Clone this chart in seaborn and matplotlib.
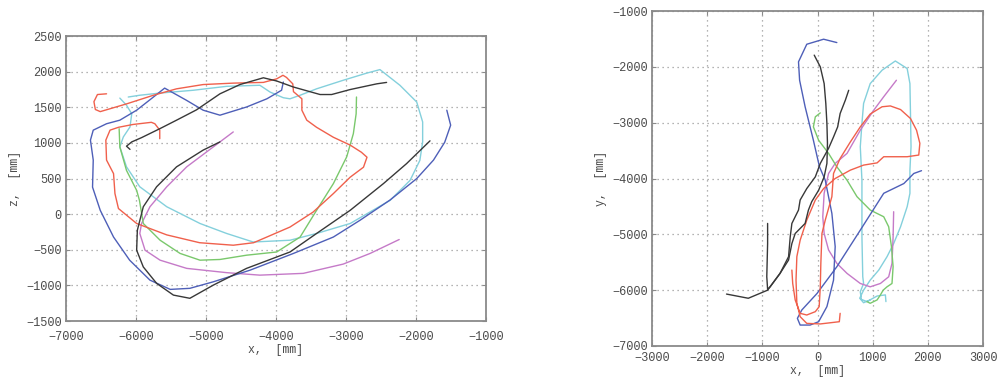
import matplotlib
matplotlib.use("Agg")
import matplotlib.pyplot as plt
import numpy as np
import pandas as pd
import seaborn as sns

# ---- side view (x, z) trajectories, mm ----
xz_red_x = [-5660, -5660, -5730, -5780, -6040, -6250, -6370, -6430, -6420, -6320, -6300, -6250,
            -5990, -5560, -5090, -4610, -4320, -4130, -3800, -3470, -3180, -2940, -2750, -2700,
            -2780, -2940, -3180, -3420, -3560, -3630, -3630, -3750, -3760, -3850, -3900, -3990,
            -4180, -4610, -5040, -5420, -5750, -6130, -6510, -6580, -6600, -6550, -6420]
xz_red_z = [1060, 1180, 1270, 1290, 1260, 1220, 1180, 1040, 760, 570, 290, 80,
            -130, -290, -400, -435, -400, -320, -180, 30, 290, 520, 660, 800,
            870, 970, 1080, 1220, 1320, 1460, 1620, 1720, 1830, 1920, 1950, 1900,
            1850, 1840, 1820, 1760, 1670, 1550, 1440, 1470, 1580, 1680, 1690]

xz_blue_x = [-1560, -1505, -1590, -1750, -1990, -2370, -2800, -3180, -3750, -4370, -4900, -5230,
             -5510, -5800, -6090, -6320, -6510, -6620, -6610, -6650, -6610, -6420, -6230, -5990,
             -5750, -5590, -5280, -5040, -4800, -4420, -4130, -3920, -3895]
xz_blue_z = [1460, 1250, 1010, 760, 500, 200, -85, -320, -550, -785, -950, -1040,
             -1055, -925, -645, -320, 55, 380, 760, 1040, 1180, 1270, 1320, 1460,
             1645, 1770, 1600, 1460, 1390, 1505, 1620, 1740, 1855]

xz_black1_x = [-6085, -6135, -6060, -5920, -5660, -5420, -5135, -4800, -4515, -4180, -3990, -3750,
               -3370, -3205, -2940, -2560, -2420]
xz_black1_z = [910, 955, 1015, 1075, 1200, 1320, 1465, 1690, 1820, 1915, 1870, 1785,
               1680, 1680, 1750, 1830, 1850]

xz_black2_x = [-4800, -5040, -5420, -5705, -5895, -5980, -5990, -5895, -5705, -5465, -5230, -4895,
               -4420, -3800, -3420, -2940, -2465, -2135, -1800]
xz_black2_z = [1015, 900, 665, 385, 105, -225, -505, -740, -970, -1135, -1180, -995,
               -760, -530, -270, 55, 430, 710, 1030]

xz_cyan_x = [-6230, -6135, -6060, -6085, -6180, -6230, -6135, -5945, -5560, -5085, -4705, -4325,
             -3800, -3420, -2940, -2370, -2085, -1945, -1905, -1905, -1990, -2230, -2515, -2705,
             -3040, -3420, -3655, -3800, -3895, -4085, -4230, -4705, -5180, -5660, -5945, -6110]
xz_cyan_z = [1630, 1530, 1410, 1225, 1085, 945, 665, 385, 105, -130, -270, -390,
             -365, -270, -130, 195, 475, 755, 1015, 1295, 1575, 1810, 2030, 1980,
             1880, 1760, 1670, 1620, 1635, 1715, 1810, 1795, 1740, 1700, 1670, 1645]

xz_green_x = [-6240, -6230, -6135, -5990, -5950, -5895, -5655, -5370, -5085, -4800, -4420, -3990,
              -3655, -3420, -3180, -2990, -2895, -2855, -2850]
xz_green_z = [1200, 945, 615, 335, 195, -130, -365, -550, -645, -635, -575, -530,
              -320, 55, 430, 805, 1130, 1410, 1645]

xz_magenta_x = [-4610, -4895, -5275, -5560, -5800, -5920, -5945, -5870, -5655, -5275, -4705, -4230,
                -3610, -3040, -2655, -2240]
xz_magenta_z = [1155, 945, 665, 385, 105, -130, -270, -505, -645, -760, -820, -855,
                -830, -700, -550, -355]

# ---- top view (x, y) trajectories, mm ----
xy_red_x = [410, 395, 50, -195, -315, -375, -390, -375, -315, -195, -40, 110,
            320, 595, 835, 1080, 1200, 1625, 1835, 1855, 1795, 1685, 1505, 1320,
            1170, 955, 775, 595, 410, 290, 260, 140, 80, 60, 50, 30, -40, -195,
            -315, -405, -450, -465]
xy_red_y = [-6415, -6565, -6605, -6595, -6475, -6235, -5820, -5400, -5105, -4745, -4385, -4180,
            -4000, -3850, -3760, -3720, -3610, -3610, -3580, -3370, -3135, -2925, -2765, -2700,
            -2715, -2845, -3075, -3345, -3640, -3910, -4325, -4745, -4985, -5520, -5940, -6295,
            -6385, -6445, -6415, -6175, -5880, -5640]

xy_blue_x = [350, 110, -195, -345, -325, -225, -75, 35, 140, 260, 320, 290,
             170, 20, -135, -315, -365, -285, -10, 350, 775, 1200, 1565, 1745, 1885]
xy_blue_y = [-1565, -1505, -1595, -1910, -2240, -2715, -3315, -3790, -4030, -4625, -5220, -5820,
             -6295, -6565, -6625, -6625, -6505, -6355, -6060, -5580, -4925, -4265, -4090, -3910, -3860]

xy_black1_x = [-60, 50, 120, 150, 170, 180, 170, 120, 20, -105, -165, -225,
               -405, -465, -525, -680, -860, -905, -1255, -1650]
xy_black1_y = [-1790, -2000, -2300, -2655, -3015, -3370, -3730, -3970, -4210, -4415, -4565, -4805,
               -4985, -5165, -5460, -5700, -5940, -6000, -6145, -6070]

xy_black2_x = [565, 505, 410, 365, 290, 200, 50, -40, -195, -315, -345, -465,
               -495, -525, -680, -860, -905, -920, -905, -905]
xy_black2_y = [-2420, -2595, -2835, -3075, -3255, -3460, -3730, -3970, -4180, -4385, -4565, -4805,
               -5045, -5400, -5700, -5940, -5985, -5760, -5165, -4805]

xy_cyan_x = [955, 835, 765, 835, 955, 1110, 1260, 1380, 1505, 1625, 1675, 1675,
             1695, 1685, 1675, 1625, 1410, 1170, 955, 835, 805, 775, 805, 805,
             820, 835, 775, 795, 895, 1080, 1230, 1240]
xy_cyan_y = [-6175, -6225, -6145, -6000, -5820, -5640, -5400, -5165, -4865, -4505, -4265, -3850,
             -3430, -2835, -2300, -2030, -1895, -2060, -2300, -2655, -3015, -3430, -4030, -5045,
             -5760, -5880, -6030, -6165, -6205, -6105, -6085, -6205]

xy_green_x = [50, -40, -75, 20, 200, 350, 535, 715, 955, 1200, 1290, 1340,
              1370, 1350, 1260, 1190, 1140, 1080, 955, 895]
xy_green_y = [-2825, -2895, -3075, -3315, -3550, -3790, -4030, -4325, -4565, -4685, -4865, -5220,
              -5580, -5880, -5940, -6000, -6085, -6175, -6235, -6205]

xy_magenta_x = [1430, 1200, 1020, 775, 535, 320, 200, 120, 95, 120, 200, 350,
                535, 775, 955, 1140, 1290, 1350, 1370, 1380]
xy_magenta_y = [-2240, -2535, -2775, -3135, -3550, -3730, -3910, -4265, -4685, -4985, -5280, -5520,
                -5700, -5880, -5940, -5880, -5760, -5520, -5045, -4595]

line_colors = {
    "red": "#f0604c",
    "blue": "#4e5fb8",
    "black": "#383838",
    "cyan": "#84d0dc",
    "green": "#7ac86c",
    "magenta": "#c57ac8",
}


def build_frame(tracks, ycol):
    frames = []
    for seg, (color, xs, ys) in enumerate(tracks):
        frames.append(pd.DataFrame({"x": xs, ycol: ys, "color": color, "seg": seg}))
    return pd.concat(frames, ignore_index=True)


side = build_frame([
    ("cyan", xz_cyan_x, xz_cyan_z),
    ("magenta", xz_magenta_x, xz_magenta_z),
    ("green", xz_green_x, xz_green_z),
    ("blue", xz_blue_x, xz_blue_z),
    ("red", xz_red_x, xz_red_z),
    ("black", xz_black1_x, xz_black1_z),
    ("black", xz_black2_x, xz_black2_z),
], "z")

top = build_frame([
    ("cyan", xy_cyan_x, xy_cyan_y),
    ("magenta", xy_magenta_x, xy_magenta_y),
    ("green", xy_green_x, xy_green_y),
    ("blue", xy_blue_x, xy_blue_y),
    ("red", xy_red_x, xy_red_y),
    ("black", xy_black1_x, xy_black1_y),
    ("black", xy_black2_x, xy_black2_y),
], "y")

sns.set_theme(style="white")
plt.rcParams["font.family"] = ["Liberation Mono", "DejaVu Sans Mono"]

fig = plt.figure(figsize=(9.99, 3.80), dpi=100)
ax1 = fig.add_axes([0.066, 0.155, 0.4205, 0.750])
ax2 = fig.add_axes([0.6527, 0.0895, 0.3313, 0.8815])

text_color = "#4a4a4a"
spine_color = "#8a8a8a"


def style_axes(ax, xlim, ylim, xticks, yticks, xlabel, ylabel, xpad, xlabelpad):
    ax.set_xlim(*xlim)
    ax.set_ylim(*ylim)
    ax.set_xticks(xticks)
    ax.set_yticks(yticks)
    ax.grid(True, linestyle=(0, (1, 3)), color="#9a9a9a", linewidth=0.9)
    for sp in ax.spines.values():
        sp.set_visible(True)
        sp.set_color(spine_color)
        sp.set_linewidth(1.3)
    ax.tick_params(direction="in", length=3, width=0.8, color=spine_color,
                   labelsize=8.6, labelcolor=text_color, top=True, right=True,
                   bottom=True, left=True)
    ax.tick_params(axis="x", pad=xpad)
    ax.tick_params(axis="y", pad=3)
    ax.set_xlabel(xlabel, fontsize=8.3, color=text_color, labelpad=xlabelpad)
    ax.set_ylabel(ylabel, fontsize=8.3, color=text_color, labelpad=4)
    ax.set_facecolor("white")


for ax, data, ycol in [(ax1, side, "z"), (ax2, top, "y")]:
    sns.lineplot(data=data, x="x", y=ycol, hue="color", units="seg", estimator=None,
                 sort=False, palette=line_colors, linewidth=1.0, legend=False, ax=ax)

style_axes(ax1, (-7000, -1000), (-1500, 2500), np.arange(-7000, -999, 1000),
           np.arange(-1500, 2501, 500), "x,  [mm]", "z,  [mm]", 7, 1)
style_axes(ax2, (-3000, 3000), (-7000, -1000), np.arange(-3000, 3001, 1000),
           np.arange(-7000, -999, 1000), "x,  [mm]", "y,  [mm]", 4.5, 0.5)

fig.savefig("out.png", dpi=100, facecolor="white")
